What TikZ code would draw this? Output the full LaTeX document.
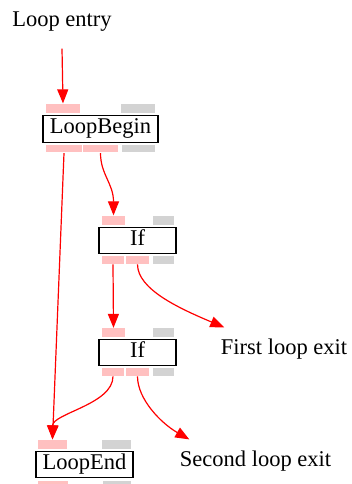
\documentclass[tikz,border=0pt]{standalone}
\usepackage{fontspec}
\setmainfont{Liberation Serif}
\usetikzlibrary{arrows.meta}
\definecolor{portpink}{RGB}{255,192,192}
\definecolor{portgray}{RGB}{211,211,211}
\tikzset{
	every path/.style={line width=1.2pt},
	block/.style={
		draw,
		rectangle,
		line width=1.3pt,
		fill=white,
		inner sep=0pt,
		minimum height=26.5pt,
		text height=15pt,
		text depth=5pt,
		font=\fontsize{22.5}{26}\selectfont,
	},
	lbl/.style={
		inner sep=0pt,
		text height=15pt,
		text depth=5pt,
		font=\fontsize{22.5}{26}\selectfont,
	},
	inport/.style={
		rectangle,
		inner sep=0pt,
		minimum height=9pt,
	},
	outport/.style={
		rectangle,
		inner sep=0pt,
		minimum height=7.5pt,
	},
	live/.style={fill=portpink},
	idle/.style={fill=portgray},
	flow/.style={
		draw=red,
		-{Triangle[length=14pt,width=11pt]},
		red,
	},
}

\begin{document}
\begin{tikzpicture}[
		x=1pt, y=1pt,
		lbl/.append style={minimum height=44pt},
	]
		\useasboundingbox (0,0) rectangle (351,484);

		\node[lbl, minimum height=52pt]	(entry) at (62,462) {Loop entry};

		\node[block, minimum width=115pt]		(begin) at (100.5,355) {LoopBegin};
		\node[inport, live, minimum width=34pt]	(begin-i0) at (63,375.5) {};
		\node[inport, idle, minimum width=34pt]	(begin-i1) at (138,375.5) {};
		\node[outport, live, minimum width=36pt]	(begin-o0) at (64,335.3) {};
		\node[outport, live, minimum width=35pt]	(begin-o1) at (100.5,335.3) {};
		\node[outport, idle, minimum width=33pt]	(begin-o2) at (138.5,335.3) {};

		\node[block, minimum width=77pt]		(if1) at (137.5,243.5) {If};
		\node[inport, live, minimum width=23pt]	(if1-i0) at (113.5,263.5) {};
		\node[inport, idle, minimum width=21pt]	(if1-i1) at (163.5,263.5) {};
		\node[outport, live, minimum width=22pt]	(if1-o0) at (113,224) {};
		\node[outport, live, minimum width=23pt]	(if1-o1) at (137.5,224) {};
		\node[outport, idle, minimum width=21pt]	(if1-o2) at (163.5,224) {};

		\node[block, minimum width=77pt]		(if2) at (137.5,131.5) {If};
		\node[inport, live, minimum width=23pt]	(if2-i0) at (113.5,151) {};
		\node[inport, idle, minimum width=21pt]	(if2-i1) at (163.5,151) {};
		\node[outport, live, minimum width=22pt]	(if2-o0) at (113,112) {};
		\node[outport, live, minimum width=23pt]	(if2-o1) at (137.5,112) {};
		\node[outport, idle, minimum width=21pt]	(if2-o2) at (163.5,112) {};

		\node[block, minimum width=97pt]		(end) at (84.5,19.5) {LoopEnd};
		\node[inport, live, minimum width=29pt]	(end-i0) at (52.5,39.5) {};
		\node[inport, idle, minimum width=29pt]	(end-i1) at (116.5,39.5) {};
		\node[outport, live, minimum width=30pt]	(end-o0) at (53,-0.5) {};
		\node[outport, idle, minimum width=28pt]	(end-o1) at (117,-0.5) {};

		\node[lbl]	(exit1) at (284,134) {First loop exit};
		\node[lbl]	(exit2) at (255.5,22) {Second loop exit};

		\draw[flow]	(entry.south) -- (begin-i0.north);
		\draw[flow]	(begin-o0.south) -- (end-i0.north);
		\draw[flow]	(begin-o1.south) .. controls +(0,-21.5) and +(0,32) .. (if1-i0.north);
		\draw[flow]	(if1-o0.south) -- (if2-i0.north);
		\draw[flow]	(if1-o1.south) .. controls +(0,-25) and +(-45,19) .. ([xshift=4pt]exit1.north west);
		\draw[flow]	(if2-o0.south) .. controls +(0,-28) and +(0,26) .. (end-i0.north);
		\draw[flow]	(if2-o1.south) .. controls +(0,-23) and +(-28,16) .. ([xshift=10pt]exit2.north west);

	\end{tikzpicture}
\end{document}
